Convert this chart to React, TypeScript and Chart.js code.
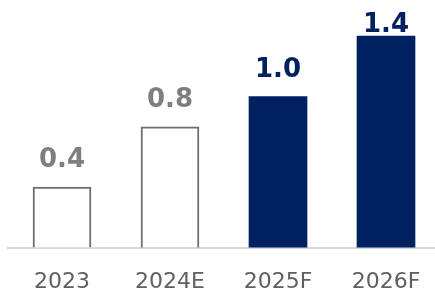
import React, { useEffect, useRef } from "react";
import { Chart, registerables } from "chart.js";

Chart.register(...registerables);

const categories = ["2023", "2024E", "2025F", "2026F"];
const values = [0.4, 0.8, 1.0, 1.4];
const valueLabels = ["0.4", "0.8", "1.0", "1.4"];
const isForecast = [false, false, true, true];

const NAVY = "#002060";
const GRAY = "#7f7f7f";

const valueLabelPlugin = {
  id: "valueLabels",
  afterDatasetsDraw(chart: any) {
    const { ctx, chartArea } = chart;
    const meta = chart.getDatasetMeta(0);
    ctx.save();
    ctx.font = "bold 26px 'DejaVu Sans'";
    ctx.textAlign = "center";
    ctx.textBaseline = "alphabetic";
    meta.data.forEach((bar: any, i: number) => {
      const y = Math.max(bar.y - 20, chartArea.top + 26);
      ctx.fillStyle = isForecast[i] ? NAVY : GRAY;
      ctx.fillText(valueLabels[i], bar.x, y);
    });
    ctx.restore();
  },
};

export default function App() {
  const ref = useRef<HTMLCanvasElement>(null);
  useEffect(() => {
    if (!ref.current) return;
    const chart = new Chart(ref.current, {
      type: "bar",
      data: {
        labels: categories,
        datasets: [
          {
            data: values,
            backgroundColor: isForecast.map((f) => (f ? NAVY : "#ffffff")),
            borderColor: isForecast.map((f) => (f ? NAVY : "#6e6e6e")),
            borderWidth: isForecast.map((f) => (f ? 0 : 2)),
            borderSkipped: "bottom",
            barThickness: 58,
          },
        ],
      },
      options: {
        responsive: false,
        animation: false,
        layout: { padding: { left: 8, right: 5, top: 6, bottom: 0 } },
        plugins: { legend: { display: false }, tooltip: { enabled: false } },
        scales: {
          x: {
            grid: { display: false, drawTicks: false },
            border: { display: true, color: "#d9d9d9", width: 2 },
            ticks: {
              color: "#5f5f5f",
              font: { family: "'DejaVu Sans'", size: 22 },
              padding: 21,
            },
          },
          y: { display: false, min: 0, max: 1.6 },
        },
      },
      plugins: [valueLabelPlugin],
    });
    return () => chart.destroy();
  }, []);
  return (
    <div
      style={{
        position: "fixed",
        left: 0,
        top: 0,
        width: 435,
        height: 293,
        overflow: "hidden",
        background: "#ffffff",
      }}
    >
      <canvas ref={ref} width={445} height={316} style={{ display: "block" }} />
    </div>
  );
}
